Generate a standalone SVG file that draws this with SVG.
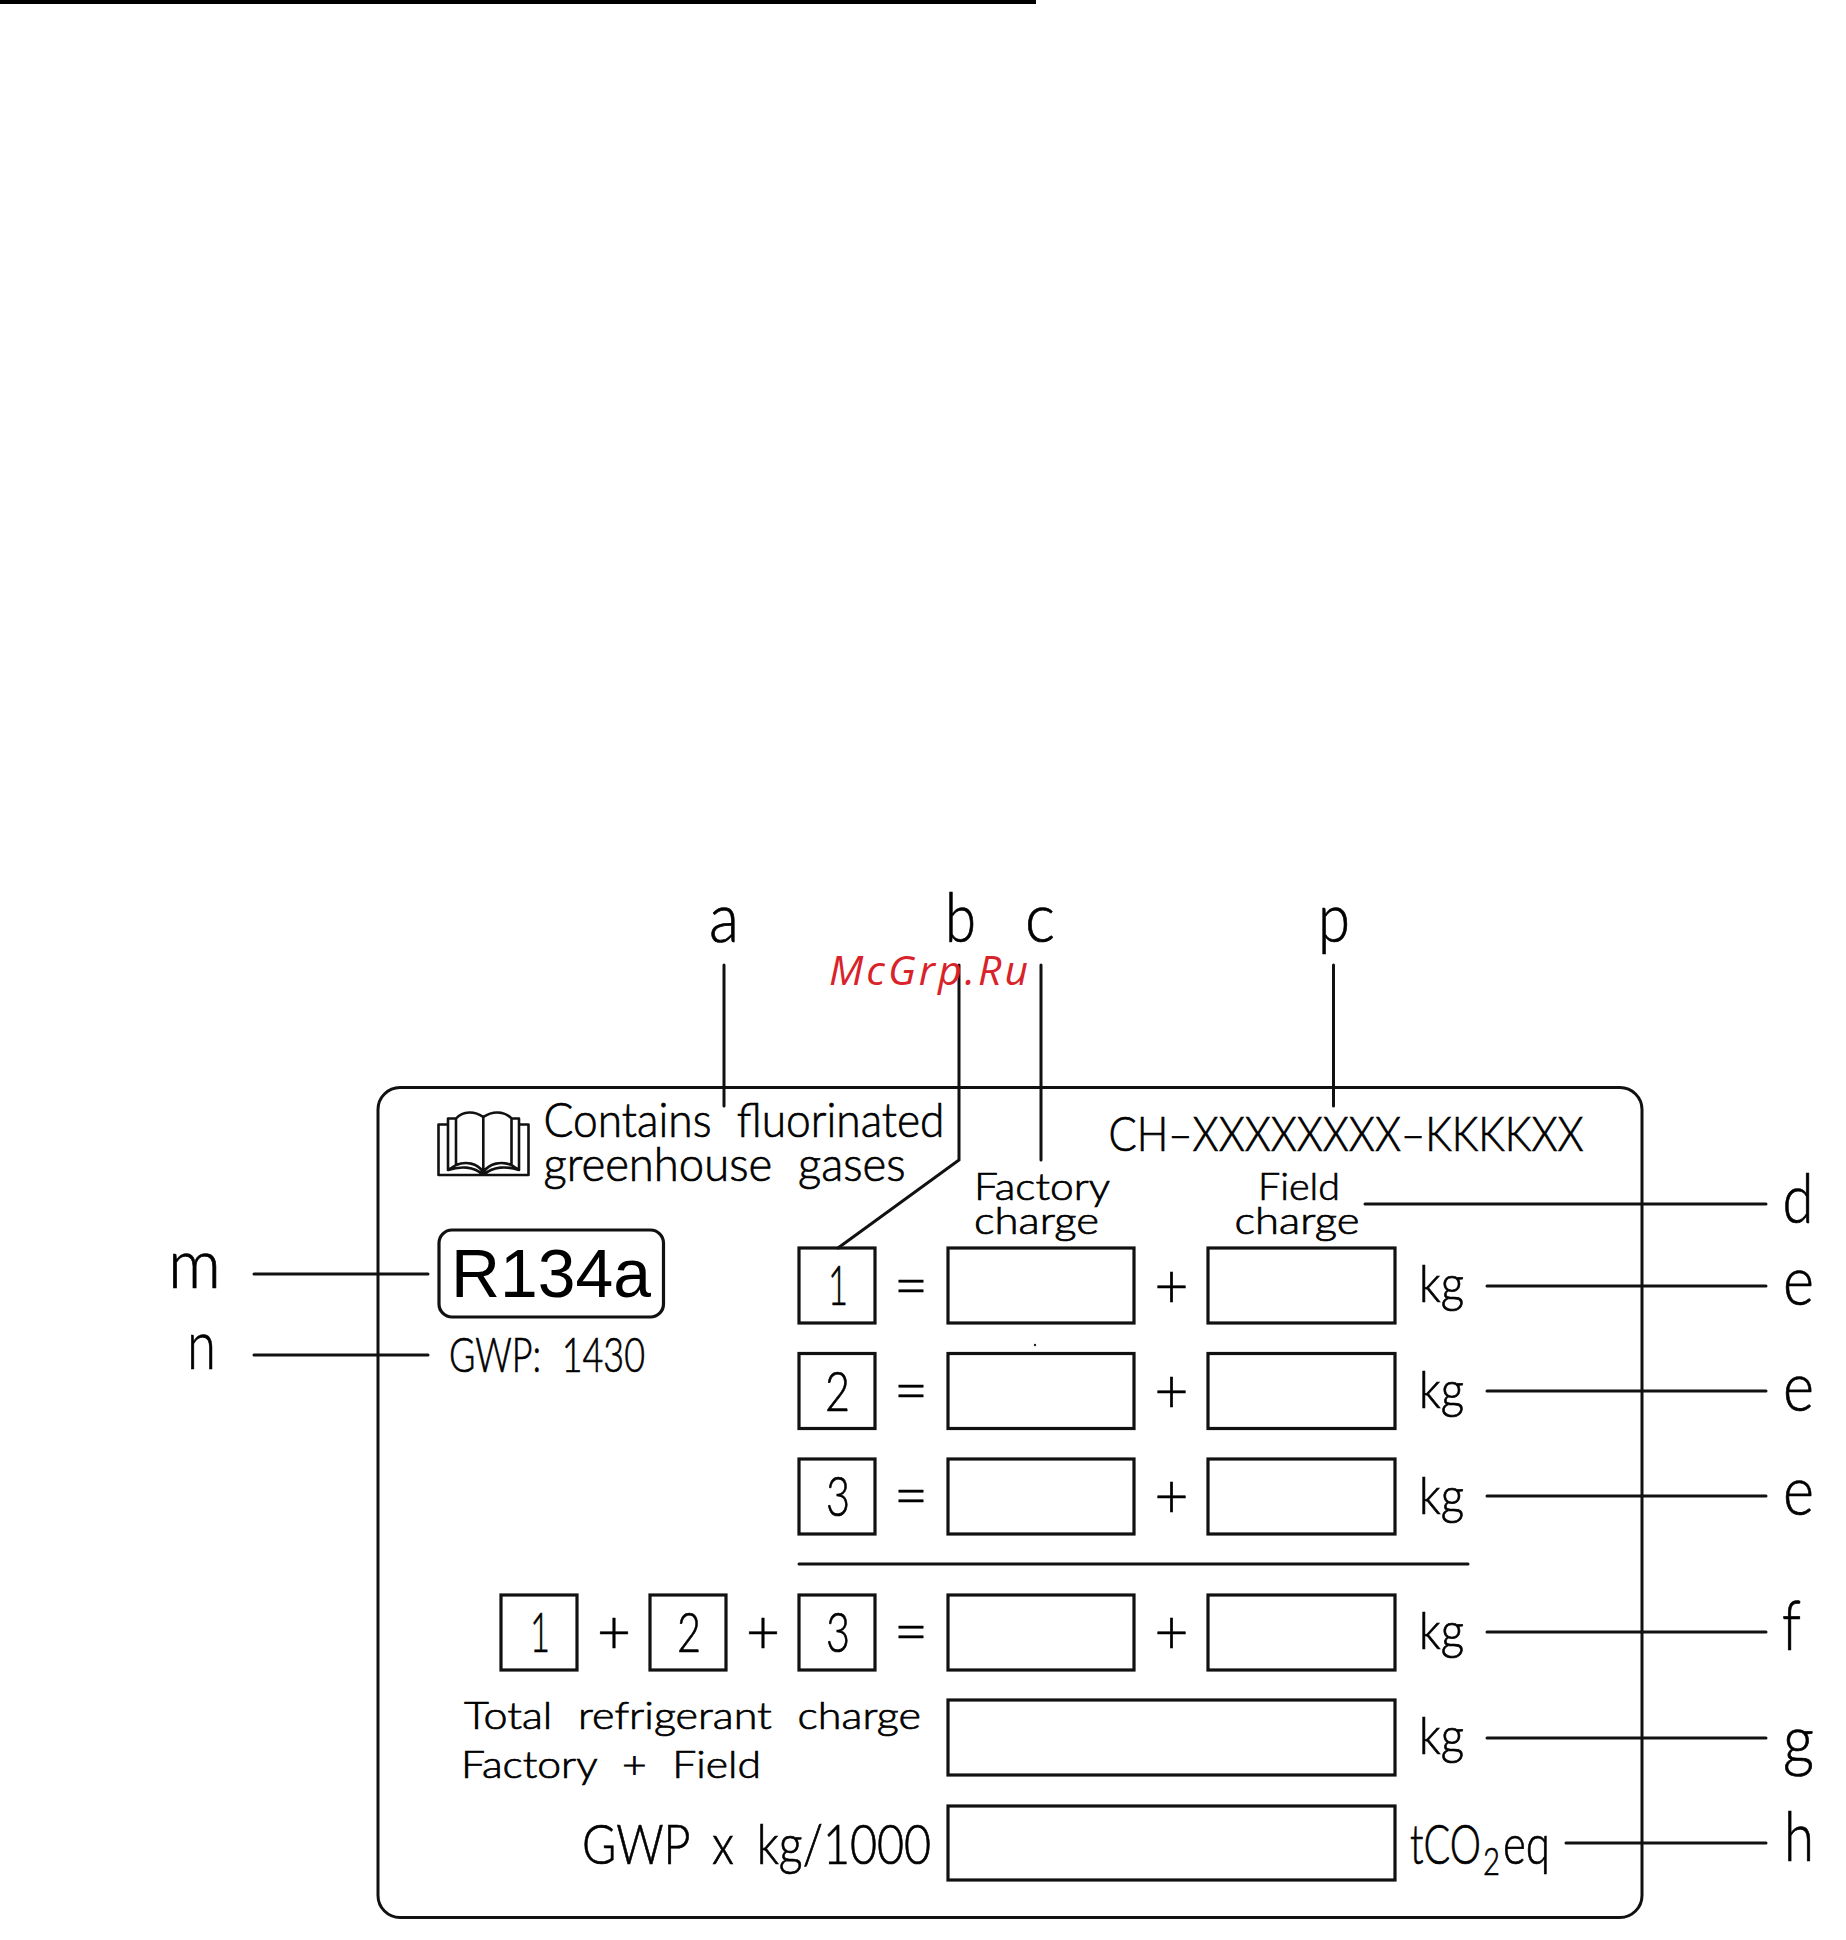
<svg xmlns="http://www.w3.org/2000/svg" width="1846" height="1940" viewBox="0 0 1846 1940">
<style>
.t{font-family:"Lato","Liberation Sans",sans-serif;font-weight:300;fill:#000;stroke:#000;stroke-width:.7}
.l{font-size:68px}.c46{font-size:47px;word-spacing:14px}.c36{font-size:37px;word-spacing:12px}.c53{font-size:56px}.kg{font-size:52px}.eq{font-size:62px}
.b{fill:#fff;stroke:#111;stroke-width:3.2}
.w{fill:none;stroke:#111;stroke-width:2.6;stroke-linecap:round;stroke-linejoin:round}
.ln{fill:none;stroke:#111;stroke-width:3;stroke-linecap:round}
</style>
<rect width="1846" height="1940" fill="#fff"/>
<rect id="top-rule" x="0" y="0" width="1036" height="4" fill="#000"/>
<g id="label-frame"><rect x="378" y="1087.5" width="1264" height="830" rx="22" ry="22" fill="none" stroke="#111" stroke-width="3"/></g>
<circle cx="1035" cy="1345" r="1.2" fill="#222"/>
<g id="book-icon">
<path class="w" d="M448 1124.5H438.5V1175H528.5V1124.5H519M456 1118.5H448V1170L456 1165M511.500 1118.500H519V1170L511.500 1165M483.300 1172V1117C475 1111 463 1110.500 456 1118.500V1165C466 1161 477 1163 483.300 1172C490 1163 501 1161 511.500 1165V1118.500C504 1110.500 492 1111 483.300 1117M448 1170C460 1166 474 1166 483.300 1175C493 1166 507 1166 519 1170"/>
</g>
<g id="title"><text class="t c46" x="543.500" y="1137" textLength="401" lengthAdjust="spacingAndGlyphs">Contains fluorinated</text>
<text class="t c46" x="543.500" y="1181" textLength="362" lengthAdjust="spacingAndGlyphs">greenhouse gases</text></g>
<g id="serial"><text class="t c46" x="1108.500" y="1151" textLength="475" lengthAdjust="spacingAndGlyphs">CH–XXXXXXXX–KKKKXX</text></g>
<g id="col-factory"><text class="t c36" x="974" y="1200" textLength="136" lengthAdjust="spacingAndGlyphs">Factory</text><text class="t c36" x="974" y="1234" textLength="125" lengthAdjust="spacingAndGlyphs">charge</text></g>
<g id="col-field"><text class="t c36" x="1258" y="1200" textLength="82" lengthAdjust="spacingAndGlyphs">Field</text><text class="t c36" x="1234.500" y="1234" textLength="125" lengthAdjust="spacingAndGlyphs">charge</text></g>
<g id="refrigerant"><rect x="439" y="1230" width="224.500" height="87" rx="13" fill="#fff" stroke="#111" stroke-width="3.2"/>
<text x="451" y="1297" font-family="'Liberation Sans',sans-serif" font-size="69" fill="#000" textLength="200" lengthAdjust="spacingAndGlyphs">R134a</text></g>
<g id="gwp-value"><text class="t c46" x="449" y="1372" textLength="196" lengthAdjust="spacingAndGlyphs">GWP: 1430</text></g>
<g id="row-1"><rect class="b" x="799" y="1248" width="76" height="75"/><text class="t c53" x="828" y="1305" textLength="20" lengthAdjust="spacingAndGlyphs">1</text><text class="t eq" x="894" y="1306.500" textLength="34" lengthAdjust="spacingAndGlyphs">=</text><rect class="b" x="948" y="1248" width="186" height="75"/><text class="t eq" x="1154.500" y="1306.500" textLength="34" lengthAdjust="spacingAndGlyphs">+</text><rect class="b" x="1208" y="1248" width="187" height="75"/><text class="t kg" x="1419" y="1302" textLength="45" lengthAdjust="spacingAndGlyphs">kg</text></g>
<g id="row-2"><rect class="b" x="799" y="1353.500" width="76" height="75"/><text class="t c53" x="825" y="1411" textLength="25" lengthAdjust="spacingAndGlyphs">2</text><text class="t eq" x="894" y="1412" textLength="34" lengthAdjust="spacingAndGlyphs">=</text><rect class="b" x="948" y="1353.500" width="186" height="75"/><text class="t eq" x="1154.500" y="1412" textLength="34" lengthAdjust="spacingAndGlyphs">+</text><rect class="b" x="1208" y="1353.500" width="187" height="75"/><text class="t kg" x="1419" y="1408" textLength="45" lengthAdjust="spacingAndGlyphs">kg</text></g>
<g id="row-3"><rect class="b" x="799" y="1459" width="76" height="75"/><text class="t c53" x="826" y="1516" textLength="24" lengthAdjust="spacingAndGlyphs">3</text><text class="t eq" x="894" y="1517" textLength="34" lengthAdjust="spacingAndGlyphs">=</text><rect class="b" x="948" y="1459" width="186" height="75"/><text class="t eq" x="1154.500" y="1517" textLength="34" lengthAdjust="spacingAndGlyphs">+</text><rect class="b" x="1208" y="1459" width="187" height="75"/><text class="t kg" x="1419" y="1514" textLength="45" lengthAdjust="spacingAndGlyphs">kg</text></g>
<line id="separator" class="ln" x1="799" y1="1564" x2="1468" y2="1564"/>
<g id="row-sum"><rect class="b" x="501" y="1595" width="76" height="75"/><text class="t c53" x="530" y="1652" textLength="20" lengthAdjust="spacingAndGlyphs">1</text><text class="t eq" x="597" y="1653" textLength="34" lengthAdjust="spacingAndGlyphs">+</text><rect class="b" x="650" y="1595" width="76" height="75"/><text class="t c53" x="677" y="1652" textLength="24" lengthAdjust="spacingAndGlyphs">2</text><text class="t eq" x="746" y="1653" textLength="34" lengthAdjust="spacingAndGlyphs">+</text><rect class="b" x="799" y="1595" width="76" height="75"/><text class="t c53" x="826" y="1652" textLength="24" lengthAdjust="spacingAndGlyphs">3</text><text class="t eq" x="894" y="1653" textLength="34" lengthAdjust="spacingAndGlyphs">=</text><rect class="b" x="948" y="1595" width="186" height="75"/><text class="t eq" x="1154.500" y="1653" textLength="34" lengthAdjust="spacingAndGlyphs">+</text><rect class="b" x="1208" y="1595" width="187" height="75"/><text class="t kg" x="1419" y="1649" textLength="45" lengthAdjust="spacingAndGlyphs">kg</text></g>
<g id="row-total"><text class="t c36" x="464" y="1729" textLength="457" lengthAdjust="spacingAndGlyphs">Total refrigerant charge</text><text class="t c36" x="461" y="1778" textLength="300" lengthAdjust="spacingAndGlyphs">Factory + Field</text><rect class="b" x="948" y="1700" width="447" height="75"/><text class="t kg" x="1419" y="1754" textLength="45" lengthAdjust="spacingAndGlyphs">kg</text></g>
<g id="row-gwp"><text class="t" font-size="55" word-spacing="12" x="582" y="1864" textLength="349" lengthAdjust="spacingAndGlyphs">GWP x kg/1000</text><rect class="b" x="948" y="1806" width="447" height="74"/><text class="t" font-size="55" x="1410" y="1864"><tspan textLength="71" lengthAdjust="spacingAndGlyphs">tCO</tspan><tspan x="1483" y="1875" font-size="38" textLength="17" lengthAdjust="spacingAndGlyphs">2</tspan><tspan x="1503" y="1864" textLength="47" lengthAdjust="spacingAndGlyphs">eq</tspan></text></g>
<g id="connectors">
<path class="ln" d="M724 965V1106M959 965V1160L838 1248M1041 965V1160M1333.500 965V1106M1365 1204H1766M1487 1286H1766M1487 1391H1766M1487 1496H1766M1487 1632H1766M1487 1738H1766M1566 1843H1766M254 1274H428M254 1355H428"/>
</g>
<g id="callouts">
<text class="t l" x="709" y="941.500" textLength="30" lengthAdjust="spacingAndGlyphs">a</text>
<text class="t l" x="945" y="941.500" textLength="31" lengthAdjust="spacingAndGlyphs">b</text>
<text class="t l" x="1025" y="941.500" textLength="30" lengthAdjust="spacingAndGlyphs">c</text>
<text class="t l" x="1318" y="941.500" textLength="32" lengthAdjust="spacingAndGlyphs">p</text>
<text class="t l" x="1782.500" y="1223" textLength="31" lengthAdjust="spacingAndGlyphs">d</text>
<text class="t l" x="1783" y="1305" textLength="31" lengthAdjust="spacingAndGlyphs">e</text>
<text class="t l" x="1783" y="1410.500" textLength="31" lengthAdjust="spacingAndGlyphs">e</text>
<text class="t l" x="1783" y="1515" textLength="31" lengthAdjust="spacingAndGlyphs">e</text>
<text class="t l" x="1782" y="1650" textLength="19" lengthAdjust="spacingAndGlyphs">f</text>
<text class="t l" x="1783" y="1764" textLength="31" lengthAdjust="spacingAndGlyphs">g</text>
<text class="t l" x="1784" y="1861" textLength="30" lengthAdjust="spacingAndGlyphs">h</text>
<text class="t l" x="168" y="1288" textLength="53" lengthAdjust="spacingAndGlyphs">m</text>
<text class="t l" x="187" y="1369" textLength="29" lengthAdjust="spacingAndGlyphs">n</text>
</g>
<text id="watermark" x="829" y="985" font-family="'Open Sans',sans-serif" font-style="italic" font-size="41" fill="#d8232a" textLength="199" lengthAdjust="spacing">McGrp.Ru</text>
</svg>
